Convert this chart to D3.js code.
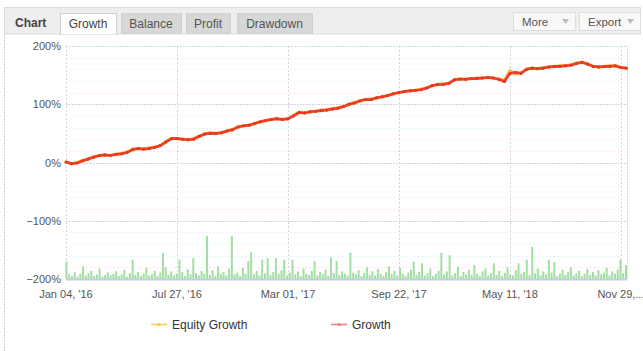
<!DOCTYPE html>
<html>
<head>
<meta charset="utf-8">
<script src="https://cdn.jsdelivr.net/npm/d3@7"></script>
<style>
  html, body { margin: 0; padding: 0; background: #fff; }
  svg { display: block; font-family: "Liberation Sans", Arial, sans-serif; }
</style>
</head>
<body>
<div id="chart"></div>
<script>
// values (percent)
const growth = [
  1, -2, -1, 3, 6, 9, 12, 13, 12, 14,
  15, 17, 22, 24, 23, 24, 26, 29, 35, 41,
  41, 40, 39, 40, 45, 49, 50, 50, 51, 54,
  56, 61, 63, 64, 67, 70, 72, 74, 75, 74,
  75, 80, 86, 85, 87, 88, 89, 90, 92, 93,
  96, 100, 102, 106, 108, 108, 111, 113, 115, 118,
  120, 122, 123, 124, 125, 128, 132, 134, 134, 136,
  142, 143, 143, 144, 144, 145, 146, 145, 143, 139,
  153, 155, 153, 160, 162, 161, 162, 164, 165, 165,
  166, 167, 170, 172, 169, 165, 164, 165, 165, 166,
  163, 162
];
const equity = [
  1, -2, 0, 3, 6, 10, 12, 13, 12, 14,
  15, 18, 23, 24, 23, 25, 26, 29, 36, 41,
  41, 40, 39, 41, 45, 49, 51, 50, 51, 54,
  57, 61, 63, 64, 67, 70, 72, 74, 75, 74,
  75, 81, 86, 85, 87, 88, 90, 90, 92, 94,
  96, 100, 103, 106, 108, 109, 111, 113, 115, 118,
  120, 122, 123, 124, 126, 128, 132, 134, 135, 136,
  142, 144, 143, 144, 145, 145, 146, 145, 143, 141,
  157, 152, 154, 160, 162, 161, 163, 164, 165, 166,
  166, 168, 171, 172, 169, 165, 164, 165, 166, 166,
  163, 162
];
// bottom bars, height above the -200% floor
const bars = [
  30, 8, 5, 12, 4, 9, 22, 6, 10, 14, 5, 8, 18, 4, 7, 11, 6,
  9, 13, 5, 8, 16, 4, 10, 33, 7, 12, 5, 9, 19, 6, 8, 14, 5,
  11, 45, 20, 7, 13, 6, 9, 33, 12, 5, 17, 8, 36, 10, 6, 14, 9,
  74, 7, 15, 5, 22, 9, 12, 6, 18, 74, 8, 11, 5, 19, 9, 31, 46,
  8, 14, 6, 33, 10, 36, 7, 12, 36, 9, 15, 33, 6, 11, 33, 8, 13,
  5, 18, 9, 7, 14, 31, 6, 12, 8, 16, 5, 37, 10, 31, 7, 13, 9,
  6, 45, 11, 8, 15, 5, 10, 20, 7, 13, 6, 17, 9, 5, 12, 22, 8,
  14, 6, 19, 9, 5, 11, 16, 30, 7, 12, 27, 6, 10, 18, 5, 9, 14,
  45, 8, 13, 41, 6, 10, 21, 5, 12, 8, 16, 7, 24, 9, 5, 13, 18,
  6, 10, 27, 7, 14, 5, 11, 20, 8, 6, 15, 27, 9, 12, 33, 7, 55,
  10, 18, 6, 13, 8, 33, 11, 29, 5, 9, 16, 7, 12, 20, 6, 10, 14,
  5, 9, 17, 7, 12, 6, 15, 8, 11, 19, 6, 13, 9, 16, 33, 10, 24
];
const xTickIdx = [0, 20, 40, 60, 80, 100];
const xTickLabels = ["Jan 04, '16", "Jul 27, '16", "Mar 01, '17", "Sep 22, '17", "May 11, '18", "Nov 29,..."];
const yTicks = [-200, -100, 0, 100, 200];
const tabs = ["Growth", "Balance", "Profit", "Drawdown"];
const seriesNames = ["Equity Growth", "Growth"];

const W = 643, H = 351;
const svg = d3.select("#chart").append("svg").attr("width", W).attr("height", H);

// ---- header bar ----
svg.append("rect").attr("x", 4.5).attr("y", 7.5).attr("width", 636).attr("height", 26.5)
  .attr("fill", "#efeeef").attr("stroke", "#dcdcdc");
svg.append("text").attr("x", 15).attr("y", 27).text("Chart")
  .attr("font-size", 12).attr("font-weight", "bold").attr("fill", "#444");

const tabBox = [[60, 56], [121, 60], [186, 44], [237, 75]];
tabs.forEach((t, i) => {
  const [tx, tw] = tabBox[i];
  const active = i === 0;
  svg.append("rect").attr("x", tx + 0.5).attr("y", 13.5).attr("width", tw).attr("height", active ? 21 : 20)
    .attr("fill", active ? "#fff" : "#d7d7d7").attr("stroke", active ? "#cfcfcf" : "#d0d0d0");
  svg.append("text").attr("x", tx + tw / 2).attr("y", 28).attr("text-anchor", "middle")
    .text(t).attr("font-size", 12).attr("fill", active ? "#444" : "#555");
});
svg.append("line").attr("x1", 61).attr("x2", 116).attr("y1", 34).attr("y2", 34).attr("stroke", "#fff");

[["More", 513, 62], ["Export", 579, 61]].forEach(([t, bx, bw]) => {
  svg.append("rect").attr("x", bx + 0.5).attr("y", 12.5).attr("width", bw).attr("height", 18)
    .attr("fill", "#f8f8f8").attr("stroke", "#dedede");
  svg.append("text").attr("x", bx + 9).attr("y", 26).text(t).attr("font-size", 11.5).attr("fill", "#555");
  svg.append("path").attr("d", `M${bx + bw - 13},19 l7,0 l-3.5,5 z`).attr("fill", "#bbb");
});

// left frame line
svg.append("line").attr("x1", 4.5).attr("x2", 4.5).attr("y1", 34).attr("y2", H)
  .attr("stroke", "#cfcfcf").attr("stroke-dasharray", "2,1");

// ---- plot ----
const x = d3.scaleLinear().domain([0, growth.length - 1]).range([66, 626.5]);
const xb = d3.scaleLinear().domain([0, bars.length - 1]).range([66.5, 626]);
const y = d3.scaleLinear().domain([-200, 200]).range([279, 46]);

const grid = svg.append("g");
const minorColors = ["#f7cde6", "#cce4f4", "#d2f0d2", "#e2dcee"];
d3.range(-180, 200, 20).filter(v => v % 100 !== 0).forEach((v, i) => {
  grid.append("line").attr("x1", 70).attr("x2", 620)
    .attr("y1", Math.round(y(v)) + 0.5).attr("y2", Math.round(y(v)) + 0.5)
    .attr("stroke", minorColors[i % 4]).attr("stroke-dasharray", "1,3");
});
yTicks.forEach(v => {
  grid.append("line").attr("x1", 66).attr("x2", 627)
    .attr("y1", Math.round(y(v)) + 0.5).attr("y2", Math.round(y(v)) + 0.5)
    .attr("stroke", v === 200 ? "#c6e8c6" : "#d6d2dc").attr("stroke-dasharray", "2,1");
});
xTickIdx.forEach(i => {
  grid.append("line").attr("x1", Math.round(x(i)) + 0.5).attr("x2", Math.round(x(i)) + 0.5)
    .attr("y1", 46).attr("y2", 279)
    .attr("stroke", "#d8d4de").attr("stroke-dasharray", "2,2");
});
grid.append("line").attr("x1", 627.5).attr("x2", 627.5).attr("y1", 46).attr("y2", 279)
  .attr("stroke", "#c6e8c6").attr("stroke-dasharray", "2,1");

// y axis labels
svg.append("g").selectAll("text").data(yTicks).join("text")
  .attr("x", 61).attr("y", d => y(d) + 4).attr("text-anchor", "end")
  .attr("font-size", 11).attr("fill", "#555")
  .text(d => (d < 0 ? "\u2212" + Math.abs(d) : d) + "%");

// x axis labels
svg.append("g").selectAll("text").data(xTickIdx).join("text")
  .attr("x", d => x(d)).attr("y", 298).attr("text-anchor", "middle")
  .attr("font-size", 11).attr("fill", "#555")
  .text((d, i) => xTickLabels[i]);

// bottom bars
svg.append("g").selectAll("rect").data(bars).join("rect")
  .attr("x", (d, i) => xb(i) - 1).attr("width", 2)
  .attr("y", d => y(-200 + d)).attr("height", d => y(-200) - y(-200 + d))
  .attr("fill", "#a2dea2");
svg.append("line").attr("x1", 66).attr("x2", 627).attr("y1", 279.5).attr("y2", 279.5)
  .attr("stroke", "#bcd0e6").attr("stroke-width", 2);

// lines
const line = d3.line().x((d, i) => x(i)).y(d => y(d));
svg.append("path").datum(equity).attr("d", line)
  .attr("fill", "none").attr("stroke", "#ffb22a").attr("stroke-width", 3);
svg.append("g").selectAll("circle").data(equity).join("circle")
  .attr("cx", (d, i) => x(i)).attr("cy", d => y(d)).attr("r", 1.6).attr("fill", "#ffb22a");
svg.append("path").datum(growth).attr("d", line)
  .attr("fill", "none").attr("stroke", "#ec3f2c").attr("stroke-width", 2.6);
svg.append("g").selectAll("circle").data(growth).join("circle")
  .attr("cx", (d, i) => x(i)).attr("cy", d => y(d)).attr("r", 1.5).attr("fill", "#e8352a");

// legend
const legend = svg.append("g");
[[seriesNames[0], 151, "#ffc845", 172], [seriesNames[1], 331, "#f07a7a", 352]].forEach(([name, lx, col, tx]) => {
  legend.append("line").attr("x1", lx).attr("x2", lx + 16).attr("y1", 324.5).attr("y2", 324.5)
    .attr("stroke", col).attr("stroke-width", 1.5);
  legend.append("circle").attr("cx", lx + 8).attr("cy", 324.5).attr("r", 1.5).attr("fill", col);
  legend.append("text").attr("x", tx).attr("y", 328.5).text(name)
    .attr("font-size", 12).attr("fill", "#333");
});
</script>
</body>
</html>
